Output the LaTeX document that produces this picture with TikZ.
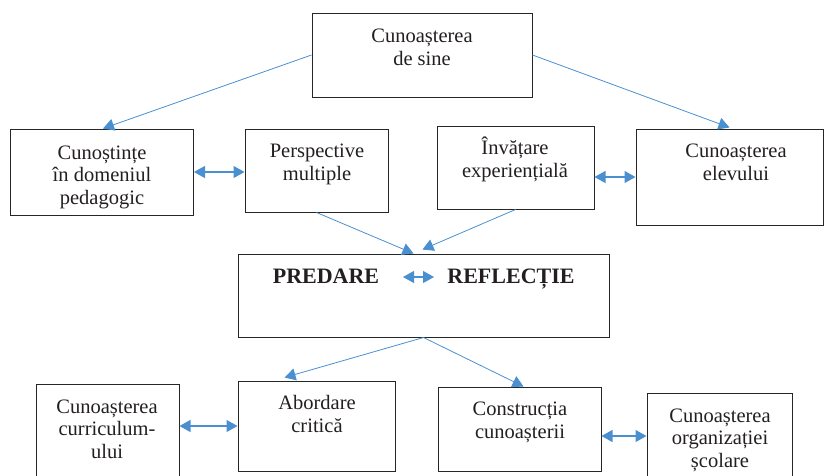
\documentclass[tikz,border=0pt]{standalone}
\usepackage{fontspec}
\setmainfont{Liberation Serif}
\usetikzlibrary{arrows.meta,calc}
\definecolor{arrblue}{RGB}{74,144,208}
\definecolor{txt}{RGB}{35,31,32}
\tikzset{
  box/.style={draw=black!85, line width=1pt, inner sep=0pt},
  lbl/.style={anchor=base, align=center, text=txt, inner sep=0pt, font=\fontsize{20.5}{22.5}\selectfont},
  bold/.style={anchor=base, text=txt, inner sep=0pt, font=\fontsize{22}{24}\selectfont\bfseries},
  conn/.style={draw=arrblue, line width=0.8pt, -{Triangle[length=11pt,width=12pt]}},
  dconn/.style={draw=arrblue, line width=1.2pt, {Triangle[length=11pt,width=12pt]}-{Triangle[length=11pt,width=12pt]}}
}
\begin{document}
\begin{tikzpicture}[x=1pt,y=-1pt]
\useasboundingbox (0,0) rectangle (825,475);
\clip (0,0) rectangle (825,475);
% boxes
\node[box, minimum width=220, minimum height=84] (top) at (422,55) {};
\node[box, minimum width=183, minimum height=86] (cun) at (102,172) {};
\node[box, minimum width=143, minimum height=83] (persp) at (316.5,170.5) {};
\node[box, minimum width=157, minimum height=83] (inv) at (515.5,167.5) {};
\node[box, minimum width=187, minimum height=96] (elev) at (729.5,177) {};
\node[box, minimum width=371, minimum height=83] (pred) at (423.5,295.5) {};
\node[box, minimum width=143, minimum height=106] (curr) at (107.5,437) {};
\node[box, minimum width=157, minimum height=90] (abord) at (316.5,426) {};
\node[box, minimum width=163, minimum height=84] (constr) at (519.5,429) {};
\node[box, minimum width=145, minimum height=97] (org) at (719.5,441.5) {};
% texts (anchored at baseline of last line)
\node[lbl] (ttop) at (422,65) {Cunoașterea\\de sine};
\node[lbl] (tcun) at (102,204) {Cunoștințe\\în domeniul\\pedagogic};
\node[lbl] (tpersp) at (317,180) {Perspective\\multiple};
\node[lbl] (tinv) at (515,177) {Învățare\\experiențială};
\node[lbl] (telev) at (736,180) {Cunoașterea\\elevului};
\node[bold] (tpred) at (326,283) {PREDARE};
\node[bold] (trefl) at (511,283) {REFLECȚIE};
\node[lbl] (tcurr) at (107,458) {Cunoașterea\\curriculum-\\ului};
\node[lbl] (tabord) at (317,432) {Abordare\\critică};
\node[lbl] (tconstr) at (520,438) {Construcția\\cunoașterii};
\node[lbl] (torg) at (720,467) {Cunoașterea\\organizației\\școlare};
% connectors
\draw[conn] (top.west) -- ([xshift=1pt]cun.north);
\draw[conn] (top.east) -- ([yshift=1pt]elev.north);
\draw[conn] (persp.south) -- ([xshift=-10pt]pred.north);
\draw[conn] (inv.south) -- ([xshift=-1pt,yshift=4pt]pred.north);
\draw[conn] (pred.south) -- ([xshift=-32pt,yshift=3pt]abord.north);
\draw[conn] (pred.south) -- ([xshift=4pt]constr.north);
\draw[dconn] (cun.east) -- (cun.east -| persp.west);
\draw[dconn] (elev.west -| inv.east) -- (elev.west);
\draw[dconn] (abord.west -| curr.east) -- (abord.west);
\draw[dconn] ([yshift=-7pt]constr.east) -- ([yshift=-7pt]constr.east -| org.west);
\coordinate (pa) at (403,277);
\coordinate (pb) at (434,277);
\draw[dconn] (pa) -- (pb);
\end{tikzpicture}
\end{document}
